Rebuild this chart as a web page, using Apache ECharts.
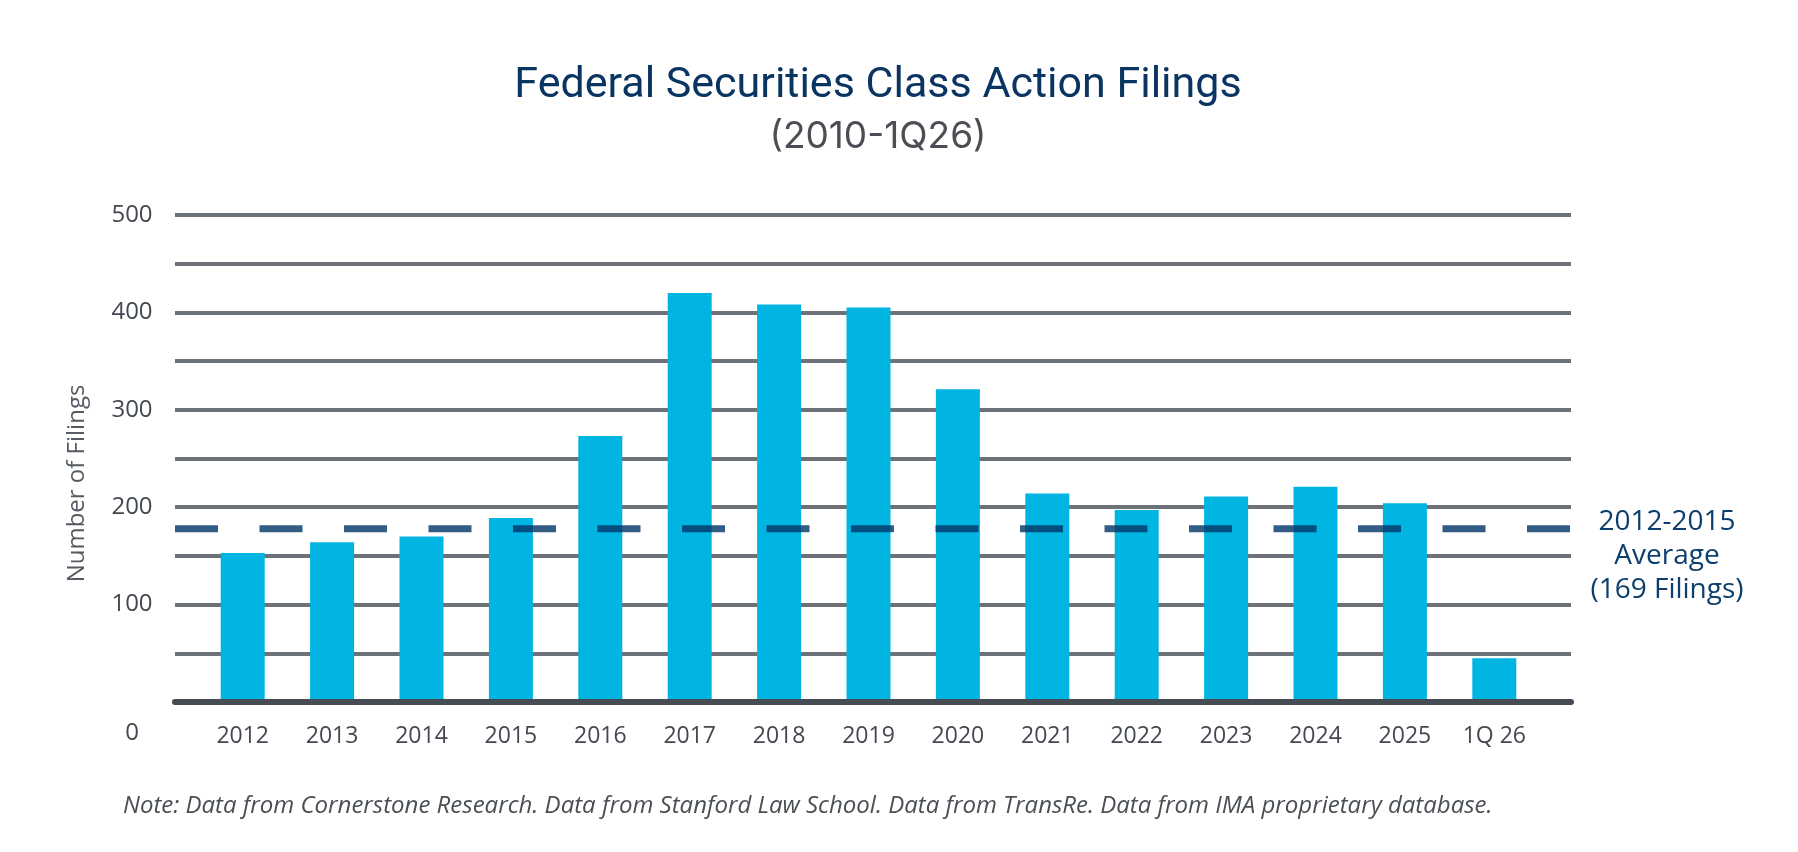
<!DOCTYPE html>
<html>
<head>
<meta charset="utf-8">
<script src="https://cdn.jsdelivr.net/npm/echarts@6/dist/echarts.min.js"></script>
<style>
html,body{margin:0;padding:0;background:#fff;}
#main{width:1798px;height:852px;}
</style>
</head>
<body>
<div id="main"></div>
<script>
const categories = ['2012','2013','2014','2015','2016','2017','2018','2019','2020','2021','2022','2023','2024','2025','1Q 26'];
const filings = [153,164,170,189,273,420,408,405,321,214,197,211,221,204,45];
const averageValue = 178;
const averageLabel = '2012-2015\nAverage\n(169 Filings)';
const yTicks = [0,100,200,300,400,500];
const titleText = 'Federal Securities Class Action Filings';
const subtitleText = '(2010-1Q26)';
const noteText = 'Note: Data from Cornerstone Research. Data from Stanford Law School. Data from TransRe. Data from IMA proprietary database.';

const chart = echarts.init(document.getElementById('main'), null, {renderer:'canvas'});
const option = {
  backgroundColor:'#ffffff',
  animation:false,
  title:[
    {text:titleText, left:873, top:60, textAlign:'center',
     textStyle:{fontFamily:'Roboto', fontWeight:'normal', fontSize:43, color:'#0a3562'}},
    {text:subtitleText, left:873, top:113, textAlign:'center',
     textStyle:{fontFamily:'Inter', fontWeight:'normal', fontSize:37, color:'#4b4f55'}}
  ],
  graphic:[
    {type:'text', left:123, top:794, style:{text:noteText, fontFamily:'Open Sans', fontStyle:'italic', fontSize:24, fill:'#4a4f55'}}
  ],
  grid:[
    {left:175, right:227, top:215, bottom:150},
    {left:198, right:259, top:215, bottom:150}
  ],
  xAxis:[
    {gridIndex:0, type:'category', data:['s','e'], boundaryGap:false, show:true,
     axisLine:{show:true, lineStyle:{color:'#464c54', width:6}}, axisTick:{show:false}, axisLabel:{show:false}, z:5},
    {gridIndex:1, type:'category', data:categories,
     axisLine:{show:false}, axisTick:{show:false},
     axisLabel:{margin:23, fontFamily:'Open Sans', fontSize:23, color:'#434851'}}
  ],
  yAxis:[
    {gridIndex:0, type:'value', min:0, max:500, interval:50,
     name:'Number of Filings', nameLocation:'middle', nameRotate:90, nameGap:86,
     nameTextStyle:{fontFamily:'Open Sans', fontSize:24, color:'#555b63', padding:[0,50,0,0]},
     axisLine:{show:false}, axisTick:{show:false},
     splitLine:{show:true, lineStyle:{color:'#6d7178', width:4}},
     axisLabel:{margin:43, align:'center', fontFamily:'Open Sans', fontSize:24, color:'#434851',
       formatter:function(v){ if(v===0) return '{z|0}'; return yTicks.indexOf(v)>=0 ? String(v) : ''; },
       rich:{z:{fontFamily:'Open Sans', fontSize:24, color:'#434851', padding:[62,0,0,0]}}}},
    {gridIndex:1, type:'value', min:0, max:500, interval:50, show:false, splitLine:{show:false}}
  ],
  series:[
    {type:'bar', xAxisIndex:1, yAxisIndex:1, data:filings, barWidth:44,
     itemStyle:{color:'#00b5e2'}, z:2},
    {type:'line', xAxisIndex:0, yAxisIndex:0, data:[averageValue, averageValue], symbol:'none',
     lineStyle:{color:'rgba(0,52,102,0.8)', width:7, type:[43,41.5], cap:'butt'}, z:4,
     endLabel:{show:true, formatter:averageLabel, distance:0, align:'center', verticalAlign:'top', offset:[96,-24],
       fontFamily:'Open Sans', fontSize:28, lineHeight:34, color:'#0d3f6e'}}
  ]
};
chart.setOption(option);
</script>
</body>
</html>
